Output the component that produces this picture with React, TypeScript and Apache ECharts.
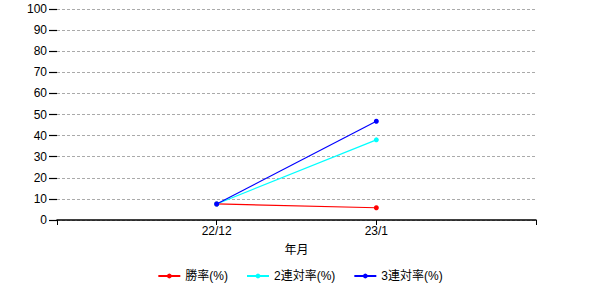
import React, { useEffect, useRef } from "react";
import * as echarts from "echarts";

const categories = ["22/12", "23/1"];
const winRate = [7.6, 5.8];
const top2Rate = [7.6, 38.0];
const top3Rate = [7.6, 46.8];
const yTicks = [0, 10, 20, 30, 40, 50, 60, 70, 80, 90, 100];

const FONT = "'Liberation Sans', 'Noto Sans CJK JP', sans-serif";

export default function App() {
  const ref = useRef<HTMLDivElement>(null);
  useEffect(() => {
    if (!ref.current) return;
    const chart = echarts.init(ref.current, undefined, { renderer: "svg" });
    const toPts = (arr: number[]) => arr.map((v, i) => [i + 1, v]);
    const mk = (name: string, data: number[], color: string, z: number) => ({
      name,
      type: "line",
      data: toPts(data),
      symbol: "circle",
      symbolSize: 5,
      lineStyle: { color, width: 1.2 },
      itemStyle: { color },
      z,
    });
    chart.setOption({
      animation: false,
      textStyle: { fontFamily: FONT },
      grid: { left: 57, right: 64, top: 9, bottom: 80 },
      xAxis: {
        type: "value",
        min: 0,
        max: categories.length + 1,
        interval: 1,
        name: "年月",
        nameLocation: "middle",
        nameGap: 24,
        nameTextStyle: { color: "#000", fontSize: 12, fontFamily: FONT },
        axisLine: { show: true, lineStyle: { color: "#000", width: 1.5 } },
        axisTick: { show: true, length: 5, lineStyle: { color: "#000" } },
        axisLabel: {
          color: "#000",
          fontSize: 12,
          margin: 5,
          fontFamily: FONT,
          formatter: (v: number) => categories[v - 1] ?? "",
        },
        splitLine: { show: false },
      },
      yAxis: {
        type: "value",
        min: yTicks[0],
        max: yTicks[yTicks.length - 1],
        interval: 10,
        axisLine: { show: false },
        axisTick: { show: true, length: 8, lineStyle: { color: "#000", width: 1.2 } },
        axisLabel: { color: "#000", fontSize: 12, margin: 10, fontFamily: FONT },
        splitLine: { show: true, lineStyle: { color: "#aaa", type: [3, 2], width: 1 } },
      },
      legend: {
        top: 265,
        left: "center",
        itemWidth: 22,
        itemHeight: 6,
        itemGap: 18,
        textStyle: { color: "#000", fontSize: 12, fontFamily: FONT },
        data: ["勝率(%)", "2連対率(%)", "3連対率(%)"],
      },
      series: [
        mk("勝率(%)", winRate, "#ff0000", 1),
        mk("2連対率(%)", top2Rate, "#00ffff", 2),
        mk("3連対率(%)", top3Rate, "#0000ff", 3),
      ],
    });
    return () => chart.dispose();
  }, []);
  return (
    <div
      ref={ref}
      style={{ position: "absolute", left: 0, top: 0, width: 600, height: 300, background: "#fff" }}
    />
  );
}
